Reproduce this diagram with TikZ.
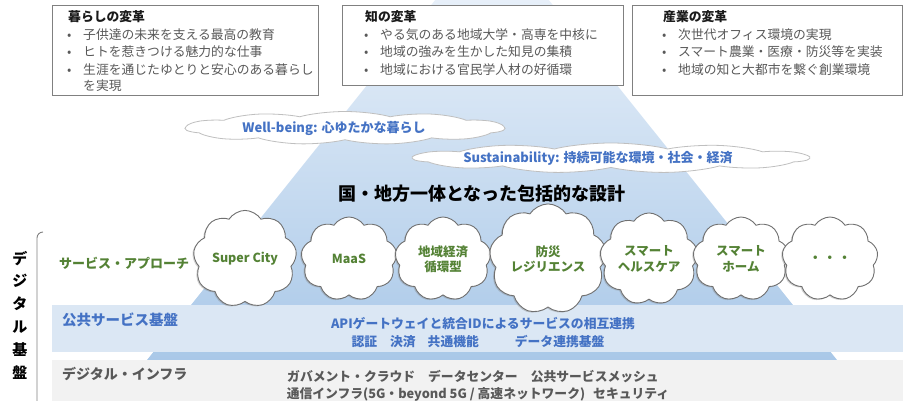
\documentclass[tikz,border=0pt]{standalone}
\usepackage{fontspec}
\setmainfont{Noto Sans CJK JP}
\usetikzlibrary{shapes.symbols,shadows}
\definecolor{boxline}{HTML}{808080}
\definecolor{bodygray}{HTML}{595959}
\definecolor{titleblk}{HTML}{1A1A1A}
\definecolor{cloudblue}{HTML}{4472C4}
\definecolor{svcgreen}{HTML}{548235}
\definecolor{pubband}{HTML}{DBE7F4}
\definecolor{infraband}{HTML}{F2F2F2}
\definecolor{triTop}{HTML}{F3F7FC}
\definecolor{triMid}{HTML}{D7E5F3}
\definecolor{triBot}{HTML}{A9C8E8}
\definecolor{cloudline}{HTML}{707070}
\definecolor{flatcloudline}{HTML}{BFBFBF}
\begin{document}
\begin{tikzpicture}[x=1pt,y=-1pt,
  topbox/.style={draw=boxline, line width=0.8pt, fill=white},
  boxtitle/.style={anchor=west, inner sep=0pt, text=titleblk, font=\fontsize{12.8}{15}\selectfont\bfseries},
  boxitem/.style={anchor=west, inner sep=0pt, text=bodygray, font=\fontsize{12.8}{15}\selectfont},
  flatcloud/.style={cloud, cloud puffs=11, cloud puff arc=100, aspect=2.4, draw=flatcloudline, line width=0.8pt, fill=white, inner sep=0pt, transform shape},
  flattext/.style={inner sep=0pt, text=cloudblue, font=\fontsize{13}{15}\selectfont\bfseries},
  svccloud/.style={cloud, cloud puffs=9, cloud puff arc=115, aspect=1.1, draw=cloudline, line width=0.9pt, fill=white,
     minimum width=96pt, minimum height=84pt, inner sep=0pt, align=center, text=svcgreen,
     font=\fontsize{12.5}{15.5}\selectfont\bfseries,
     drop shadow={shadow xshift=-1.3pt, shadow yshift=-1pt, opacity=0.35}},
  rowlabel/.style={anchor=west, inner sep=0pt, font=\fontsize{13}{15}\selectfont\bfseries},
  bandtext/.style={inner sep=0pt, font=\fontsize{12.8}{15}\selectfont\bfseries}]
\useasboundingbox (0,0) rectangle (903,401);
% pyramid
\begin{scope}
\clip (0,0) rectangle (903,401);
\shade[top color=triTop, middle color=triMid, bottom color=triBot] (492,-71) -- (837,360) -- (147,360) -- cycle;
\end{scope}
% bands
\fill[pubband] (52,305) rectangle (903,352);
\fill[infraband] (52,360) rectangle (903,401);
% top boxes
\draw[topbox] (52,5) rectangle (318,95);
\draw[topbox] (342,5) rectangle (623,85);
\draw[topbox] (632,5) rectangle (902,95);
\node[boxtitle] (t1) at (68,17) {暮らしの変革};
\node[boxitem] (t1a) at (67,35) {\makebox[16pt][l]{•}子供達の未来を支える最高の教育};
\node[boxitem] (t1b) at (67,52) {\makebox[16pt][l]{•}ヒトを惹きつける魅力的な仕事};
\node[boxitem] (t1c) at (67,70) {\makebox[16pt][l]{•}生涯を通じたゆとりと安心のある暮らし};
\node[boxitem] (t1d) at (67,86) {\makebox[16pt][l]{}を実現};
\node[boxtitle] (t2) at (365,17) {知の変革};
\node[boxitem] (t2a) at (364,35) {\makebox[16pt][l]{•}やる気のある地域大学・高専を中核に};
\node[boxitem] (t2b) at (364,52) {\makebox[16pt][l]{•}地域の強みを生かした知見の集積};
\node[boxitem] (t2c) at (364,70) {\makebox[16pt][l]{•}地域における官民学人材の好循環};
\node[boxtitle] (t3) at (663,17) {産業の変革};
\node[boxitem] (t3a) at (662,35) {\makebox[16pt][l]{•}次世代オフィス環境の実現};
\node[boxitem] (t3b) at (662,52) {\makebox[16pt][l]{•}スマート農業・医療・防災等を実装};
\node[boxitem] (t3c) at (662,70) {\makebox[16pt][l]{•}地域の知と大都市を繋ぐ創業環境};
% flat clouds
\node[flatcloud, xscale=4, minimum width=80pt, minimum height=33pt] (wb) at (345,128) {};
\node[flattext] (wbt) at (334,128) {Well-being: 心ゆたかな暮らし};
\node[flatcloud, xscale=4.4, minimum width=90pt, minimum height=30pt] (sus) at (611,158) {};
\node[flattext] (sust) at (598,158) {Sustainability: 持続可能な環境・社会・経済};
% main title
\node[inner sep=0pt, text=black, font=\fontsize{18}{20}\selectfont\bfseries] (main) at (482,194) {国・地方一体となった包括的な設計};
% left bracket and vertical label
\draw[boxline, line width=0.9pt] (37,401) -- (37,238) to[out=90, in=180] (43,232);
\node[inner sep=0pt, align=center, text=black, font=\fontsize{15}{22.8}\selectfont\bfseries] (vlabel) at (20,315) {デ\\ジ\\タ\\ル\\基\\盤};
% service row
\node[rowlabel, text=svcgreen] (svc) at (59,263) {サービス・アプローチ};
\node[svccloud] (c1) at (245,259) {Super City};
\node[svccloud] (c2) at (349,259) {MaaS};
\node[svccloud] (c3) at (443,259) {地域経済\\循環型};
\node[svccloud] (c4) at (548,259) {防災\\レジリエンス};
\node[svccloud] (c5) at (649,259) {スマート\\ヘルスケア};
\node[svccloud] (c6) at (741,259) {スマート\\ホーム};
\node[svccloud] (c7) at (830,259) {・\,・\,・};
% public service band
\node[anchor=west, inner sep=0pt, text=cloudblue, font=\fontsize{14.5}{16}\selectfont\bfseries] (pub) at (62,320) {公共サービス基盤};
\node[bandtext, text=cloudblue] (pub1) at (483,324) {APIゲートウェイと統合IDによるサービスの相互連携};
\node[bandtext, text=cloudblue] (pub2) at (478,342) {認証\hspace{13pt}決済\hspace{12pt}共通機能\hspace{36pt}データ連携基盤};
% digital infra band
\node[anchor=west, inner sep=0pt, text=bodygray, font=\fontsize{14}{16}\selectfont\bfseries] (inf) at (62,374) {デジタル・インフラ};
\node[bandtext, text=bodygray] (inf1) at (473,377) {ガバメント・クラウド\hspace{13pt}データセンター\hspace{13pt}公共サービスメッシュ};
\node[bandtext, text=bodygray] (inf2) at (478,394) {通信インフラ(5G・beyond 5G / 高速ネットワーク)\hspace{8pt}セキュリティ};
\end{tikzpicture}
\end{document}
